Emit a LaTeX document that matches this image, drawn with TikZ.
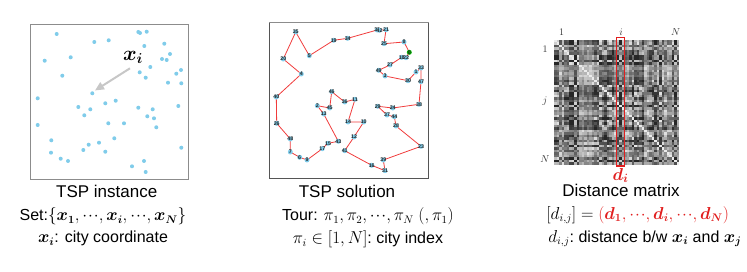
\documentclass[tikz,border=0pt]{standalone}
\usepackage{fontspec}
\setmainfont{Liberation Sans}
\usepackage{amsmath,bm}
\usetikzlibrary{arrows.meta}
\definecolor{dotblue}{RGB}{128,204,234}
\definecolor{tourred}{RGB}{240,60,60}
\definecolor{hlred}{RGB}{225,30,30}
\definecolor{framegray}{RGB}{140,140,140}
\definecolor{darkframe}{RGB}{85,85,85}
\tikzset{
  caption/.style={font=\fontsize{17}{20}\selectfont, inner sep=0pt, anchor=center},
  formula/.style={font=\fontsize{16}{19}\selectfont, inner sep=0pt, anchor=center},
  instdot/.style={fill=dotblue},
  soldot/.style={circle, fill=dotblue, inner sep=0pt, minimum size=5pt},
  sollab/.style={font=\fontsize{5.3}{6}\selectfont\bfseries, text=black!85, inner sep=0pt},
  tour/.style={draw=tourred, line width=0.8pt, line join=round},
  axlab/.style={font=\fontsize{10}{12}\selectfont, inner sep=0pt, text=black!80},
}
\newcommand{\cdt}{\mathord{\cdotp\mkern-2mu\cdotp\mkern-2mu\cdotp}}
\begin{document}
\begin{tikzpicture}[x=1pt,y=-1pt]
\useasboundingbox (0,0) rectangle (747,272);
% ---------------- TSP instance ----------------
\draw[framegray, line width=0.8pt] (30.3,24.3) rectangle (188.7,179);
\foreach \x/\y in {56.7/34,138.3/32,140/33,146.7/31.7,94.3/42,108.7/40.3,144.3/46,164.3/43.7,
44.7/60.7,70.7/57.3,170/54,162/59,166.7/60,150.3/67,139.7/72.3,145.7/77.7,176.3/73.7,181/70,
62.3/75.7,168/82.7,181.3/83.3,92.3/93.3,37.7/98.3,115.7/100.7,105.3/103.3,78.3/107,90.3/109.3,
138.3/107.7,152.7/109.3,178.3/106,84.3/115.3,147.3/116.3,154/118.3,37.7/125,108.3/123.3,
124/123.3,156.3/127.3,51.3/140.3,114.3/138.3,88.7/144.7,99/142.7,83.3/150,51/152.7,105.3/151.7,
181.3/147.7,60.7/158.7,68/161,132/166.3,144/161,145.7/172}
  {\fill[instdot] (\x,\y) circle (2pt);}
\coordinate (arrS) at (130,68.3);
\coordinate (arrE) at (95,90.5);
\draw[black!22, line width=2pt, -{Triangle[length=9pt,width=8pt]}] (arrS) -- (arrE);
\node[inner sep=0pt, font=\fontsize{20}{22}\selectfont] (xi) at (133,57) {$\bm{x_i}$};
\node[caption] (c1) at (106.7,191) {TSP instance};
\node[formula] (f1a) at (103,216.5) {Set:$\{\bm{x_1},\cdt,\bm{x_i},\cdt,\bm{x_N}\}$};
\node[formula] (f1b) at (103,238.5) {$\bm{x_i}$: city coordinate};
% ---------------- TSP solution ----------------
\draw[darkframe, line width=0.8pt] (269.3,22.7) rectangle (428.7,178.3);
\draw[black!45, line width=0.8pt] (269.3,22.7) -- (428.7,22.7);
\foreach \x/\y [count=\k from 0] in {409.3/52.3,416/72,317.3/105.7,385/76,301.3/74,309.3/55.7,
299.7/157.3,290.3/152,404/42,307/160,363.7/122,355/99.3,354/137,323.7/114,348/122,328/143.3,
371.7/165.3,322.3/148.7,401.7/57.3,333.7/40.3,283.3/59,386/29.7,406/57.7,421/146.3,392.7/108,
384/43.7,276.7/123.3,390/65,396/126,377.7/106.3,408/80.7,385/170.7,377.2/30,421/68,347.7/38.3,
295.7/32,344.7/102,387/115,419/104.3,383.3/160,276.3/97,344.7/150.7,379.5/30.3,338.3/141.3,
394.3/116.7,329.7/108,331.7/91.7,421/81.7,290.3/139,378.7/70.3}
  {\coordinate (s\k) at (\x,\y);
   \expandafter\xdef\csname px\k\endcsname{\x}%
   \expandafter\xdef\csname py\k\endcsname{\y}}
\draw[tour] (s0) -- (s8) -- (s25) -- (s21) -- (s42) -- (s32) -- (s34) -- (s19) -- (s5) -- (s35)
  -- (s20) -- (s4) -- (s40) -- (s26) -- (s48) -- (s7) -- (s6) -- (s9) -- (s17) -- (s15) -- (s43)
  -- (s13) -- (s2) -- (s45) -- (s46) -- (s36) -- (s11) -- (s14) -- (s10) -- (s12) -- (s41)
  -- (s16) -- (s31) -- (s39) -- (s23) -- (s28) -- (s44) -- (s37) -- (s29) -- (s24) -- (s38)
  -- (s47) -- (s33) -- (s1) -- (s30) -- (s3) -- (s49) -- (s27) -- (s18) -- (s22) -- cycle;
\foreach \k in {1,...,49}
  {\node[soldot] (d\k) at (s\k) {};
   \node[sollab] (l\k) at (s\k) {\k};}
\node[soldot, fill=green!70!black] (d0) at (s0) {};
\node[sollab] (l0) at (s0) {0};
\node[caption] (c2) at (347,191.5) {TSP solution};
\node[formula] (f2a) at (368,216.5) {Tour: $\pi_1,\pi_2,\cdt,\pi_N\ (,\pi_1)$};
\node[formula] (f2b) at (368,239.5) {$\pi_i\in[1,N]$:\ city index};
% ---------------- Distance matrix ----------------
\foreach \i in {0,...,49}{
  \edef\ax{\csname px\i\endcsname}\edef\ay{\csname py\i\endcsname}
  \foreach \j in {0,...,49}{
    \edef\bx{\csname px\j\endcsname}\edef\by{\csname py\j\endcsname}
    \pgfmathsetmacro\dd{min(85,8+0.55*veclen(\ax-\bx,\ay-\by))}
    \fill[black!\dd] (554+2.5*\i,40+2.5*\j) rectangle ++(2.6,2.6);
  }}
\node[draw=hlred, line width=1.1pt, minimum width=7.7pt, minimum height=128.7pt, inner sep=0pt] (col) at (620.2,101.7) {};
\node[axlab] (t1) at (561.7,32.5) {$1$};
\node[axlab] (ti) at (621,32.5) {$i$};
\node[axlab] (tN) at (675.7,32.5) {$N$};
\node[axlab] (r1) at (545,49.5) {$1$};
\node[axlab] (rj) at (545,101) {$j$};
\node[axlab] (rN) at (545,159.5) {$N$};
\node[inner sep=0pt, text=hlred, font=\fontsize{18}{20}\selectfont] (di) at (620.5,175.5) {$\bm{d_i}$};
\node[caption] (c3) at (621,190.5) {Distance matrix};
\node[formula] (f3a) at (637.7,215) {$[d_{i,j}] = \color{hlred}(\bm{d_1},\cdt,\bm{d_i},\cdt,\bm{d_N})$};
\node[formula] (f3b) at (645,238.5) {$d_{i,j}$:\ distance b/w $\bm{x_i}$ and $\bm{x_j}$};
\end{tikzpicture}
\end{document}
